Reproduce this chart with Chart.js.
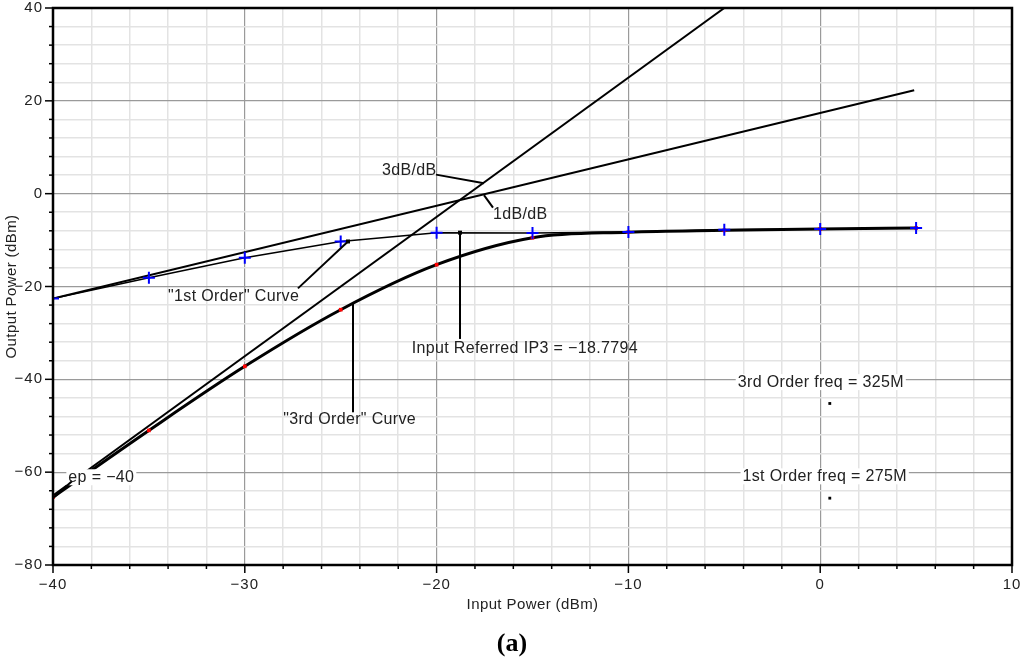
<!DOCTYPE html>
<html>
<head>
<meta charset="utf-8">
<script src="https://cdn.jsdelivr.net/npm/chart.js@4/dist/chart.umd.min.js"></script>
<style>
  html, body { margin:0; padding:0; background:#fff; }
  #wrap { width:1024px; height:666px; }
</style>
</head>
<body>
<div id="wrap"><canvas id="ip3Chart" width="1024" height="666"></canvas></div>
<script>
// input power sweep (dBm)
const inputPower = [-40, -35, -30, -25, -20, -15, -10, -5, 0, 5];
// measured output power of the fundamental ("1st order") and IM3 ("3rd order")
const firstOrderOut = [-22.6, -18.1, -13.8, -10.3, -8.4, -8.45, -8.25, -7.8, -7.6, -7.4];
const thirdOrderOut = [-65.4, -51.0, -37.2, -25.0, -15.3, -9.5, -8.3, -7.9, -7.6, -7.4];
// extrapolated 1dB/dB and 3dB/dB lines (end points)
const line1dbX = [-40, 4.9];
const line1dbY = [-22.6, 22.3];
const line3dbX = [-40, -5];
const line3dbY = [-65, 40];
// intercept point
const ip3Input = -18.7794;
const ip3Output = -8.4;
// frequency markers
const freqText = ['3rd Order freq = 325M', '1st Order freq = 275M'];
const freqX = [0.5, 0.5];
const freqY = [-45.2, -65.6];
// axis ticks
const xTicks = [-40, -30, -20, -10, 0, 10];
const yTicks = [-80, -60, -40, -20, 0, 20, 40];

const minus = v => String(v).replace('-', '\u2212');
const FONT = '"Liberation Sans", Arial, sans-serif';

// annotation labels with leader lines, in data units
const notes = [
  {text:'3dB/dB', x:-22.85, y:4.95, from:[-20.03, 4.1], to:[-17.53, 2.25]},
  {text:'1dB/dB', x:-17.06, y:-4.6, from:[-17.53, -0.3], to:[-17.06, -3.0]},
  {text:'"1st Order" Curve', x:-34.0, y:-22.15, from:[-27.23, -20.4], to:[-24.62, -10.3], dot:true},
  {text:'Input Referred IP3 = ' + minus(ip3Input), x:-21.3, y:-33.3, from:[ip3Input, -31.3], to:[ip3Input, ip3Output], dot:true},
  {text:'"3rd Order" Curve', x:-28.0, y:-48.6, from:[-24.36, -47.1], to:[-24.36, -23.7]},
  {text:'ep = ' + minus(-40), x:-39.2, y:-61.1, from:[-39.0, -61.9], to:[-39.95, -65.4], box:true},
  {text:freqText[0], x:-4.3, y:-40.6, box:true},
  {text:freqText[1], x:-4.05, y:-60.9, box:true}
];

const notesPlugin = {
  id:'notes',
  beforeDraw(chart){
    chart.ctx.letterSpacing = '1px';
  },
  afterDatasetsDraw(chart){
    const {ctx, scales:{x, y}} = chart;
    ctx.save();
    ctx.font = '16px ' + FONT;
    ctx.letterSpacing = '0.35px';
    ctx.textBaseline = 'middle';
    notes.forEach(n => {
      const tx = x.getPixelForValue(n.x), ty = y.getPixelForValue(n.y);
      const w = ctx.measureText(n.text).width;
      if(n.box){
        ctx.fillStyle = '#fff';
        ctx.fillRect(tx - 2, ty - 8, w + 4, 16);
      }
      if(n.from){
        ctx.strokeStyle = '#000';
        ctx.lineWidth = 2;
        ctx.beginPath();
        ctx.moveTo(x.getPixelForValue(n.from[0]), y.getPixelForValue(n.from[1]));
        ctx.lineTo(x.getPixelForValue(n.to[0]), y.getPixelForValue(n.to[1]));
        ctx.stroke();
        if(n.dot){
          ctx.fillStyle = '#000';
          ctx.fillRect(x.getPixelForValue(n.to[0]) - 2, y.getPixelForValue(n.to[1]) - 2, 4, 4);
        }
      }
      ctx.fillStyle = '#222';
      ctx.textAlign = 'left';
      ctx.fillText(n.text, tx, ty);
    });
    ctx.restore();
  },
  afterDraw(chart){
    const {ctx, chartArea:a, scales:{x, y}} = chart;
    ctx.save();
    // ticks
    ctx.strokeStyle = '#000';
    ctx.lineWidth = 1.5;
    x.ticks.forEach(t => {
      const p = x.getPixelForValue(t.value);
      const len = t.value % 10 === 0 ? 8 : 4;
      ctx.beginPath(); ctx.moveTo(p, a.bottom); ctx.lineTo(p, a.bottom + len); ctx.stroke();
    });
    y.ticks.forEach(t => {
      const p = y.getPixelForValue(t.value);
      const len = t.value % 20 === 0 ? 8 : 4;
      ctx.beginPath(); ctx.moveTo(a.left, p); ctx.lineTo(a.left - len, p); ctx.stroke();
    });
    // frame
    ctx.lineWidth = 2.5;
    ctx.strokeRect(a.left, a.top, a.right - a.left, a.bottom - a.top);
    // axis titles
    ctx.fillStyle = '#222';
    ctx.font = '15px ' + FONT;
    ctx.letterSpacing = '0.4px';
    ctx.textAlign = 'center';
    ctx.textBaseline = 'middle';
    ctx.fillText('Input Power (dBm)', (a.left + a.right) / 2, 605);
    ctx.save();
    ctx.translate(12, (a.top + a.bottom) / 2);
    ctx.rotate(-Math.PI / 2);
    ctx.fillText('Output Power (dBm)', 0, 0);
    ctx.restore();
    ctx.letterSpacing = '0px';
    ctx.fillStyle = '#000';
    ctx.font = 'bold 26px "Liberation Serif", "Times New Roman", serif';
    ctx.fillText('(a)', 512, 644);
    ctx.restore();
  }
};

const majorGrid = '#9a9a9a', minorGrid = '#e3e3e3';

new Chart(document.getElementById('ip3Chart'), {
  type:'scatter',
  data:{
    datasets:[
      {
        label:'1st Order',
        data:inputPower.map((v, i) => ({x:v, y:firstOrderOut[i]})),
        showLine:true, borderColor:'#000', borderWidth:1.5,
        pointStyle:'cross', pointRadius:6, pointBorderColor:'#0000ff', pointBorderWidth:2,
        pointBackgroundColor:'#0000ff'
      },
      {
        label:'3rd Order',
        data:inputPower.map((v, i) => ({x:v, y:thirdOrderOut[i]})),
        showLine:true, borderColor:'#000', borderWidth:3, cubicInterpolationMode:'monotone',
        pointStyle:'rect', pointRadius:2.6, pointBorderWidth:0, pointBackgroundColor:'#ff0000'
      },
      {
        label:'1dB/dB',
        data:line1dbX.map((v, i) => ({x:v, y:line1dbY[i]})),
        showLine:true, borderColor:'#000', borderWidth:2, pointRadius:0
      },
      {
        label:'3dB/dB',
        data:line3dbX.map((v, i) => ({x:v, y:line3dbY[i]})),
        showLine:true, borderColor:'#000', borderWidth:2, pointRadius:0
      },
      {
        label:'freq markers',
        data:freqX.map((v, i) => ({x:v, y:freqY[i]})),
        showLine:false, pointStyle:'rect', pointRadius:2, pointBorderWidth:0, pointBackgroundColor:'#000'
      }
    ]
  },
  options:{
    responsive:false,
    animation:false,
    events:[],
    layout:{padding:{top:7, right:12, left:0, bottom:0}},
    plugins:{legend:{display:false}, tooltip:{enabled:false}},
    scales:{
      x:{
        type:'linear', min:-40, max:10,
        afterFit(s){ s.height = 101; s.paddingLeft = 0; s.paddingRight = 0; },
        afterBuildTicks(s){ s.ticks = []; for(let v = -40; v <= 10; v += 2) s.ticks.push({value:v}); },
        grid:{
          drawTicks:false,
          color: c => (c.tick && xTicks.includes(c.tick.value)) ? majorGrid : minorGrid,
          lineWidth: c => (c.tick && xTicks.includes(c.tick.value)) ? 1.2 : 1.5
        },
        border:{display:false},
        ticks:{
          autoSkip:false, maxRotation:0, padding:11, color:'#222',
          font:{family:FONT, size:15},
          callback: v => xTicks.includes(v) ? minus(v) : ''
        }
      },
      y:{
        type:'linear', min:-80, max:40,
        afterFit(s){ s.width = 53; s.paddingTop = 0; s.paddingBottom = 0; },
        afterBuildTicks(s){ s.ticks = []; for(let v = -80; v <= 40; v += 4) s.ticks.push({value:v}); },
        grid:{
          drawTicks:false,
          color: c => (c.tick && yTicks.includes(c.tick.value)) ? majorGrid : minorGrid,
          lineWidth: c => (c.tick && yTicks.includes(c.tick.value)) ? 1.2 : 1.5
        },
        border:{display:false},
        ticks:{
          autoSkip:false, padding:10, color:'#222',
          font:{family:FONT, size:15},
          callback: v => yTicks.includes(v) ? minus(v) : ''
        }
      }
    }
  },
  plugins:[notesPlugin]
});
</script>
</body>
</html>
